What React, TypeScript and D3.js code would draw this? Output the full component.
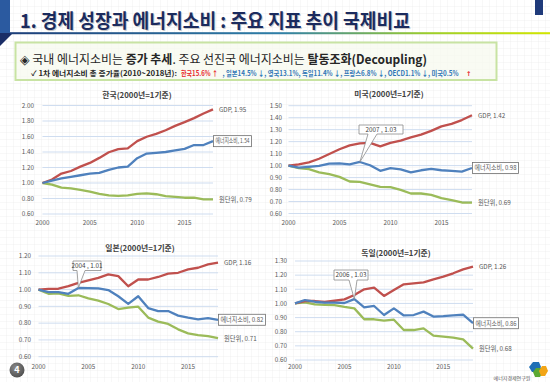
import React from "react";
import * as d3 from "d3";

const years = [2000, 2001, 2002, 2003, 2004, 2005, 2006, 2007, 2008, 2009, 2010, 2011, 2012, 2013, 2014, 2015, 2016, 2017, 2018];
const xTickYears = [2000, 2005, 2010, 2015];

const koreaGDP = [1.0, 1.045, 1.122, 1.155, 1.211, 1.259, 1.324, 1.397, 1.436, 1.446, 1.54, 1.597, 1.634, 1.681, 1.737, 1.785, 1.837, 1.896, 1.95];
const koreaEnergy = [1.0, 1.03, 1.06, 1.08, 1.1, 1.12, 1.13, 1.17, 1.2, 1.21, 1.32, 1.38, 1.39, 1.4, 1.42, 1.44, 1.49, 1.49, 1.54];
const koreaIntensity = [1.0, 0.98, 0.94, 0.93, 0.91, 0.89, 0.86, 0.84, 0.835, 0.84, 0.86, 0.865, 0.855, 0.83, 0.82, 0.81, 0.81, 0.79, 0.79];

const usGDP = [1.0, 1.01, 1.027, 1.057, 1.097, 1.136, 1.169, 1.185, 1.19, 1.16, 1.19, 1.209, 1.236, 1.258, 1.29, 1.327, 1.348, 1.38, 1.42];
const usEnergy = [1.0, 0.983, 0.99, 0.997, 1.017, 1.019, 1.011, 1.03, 1.003, 0.956, 0.978, 0.969, 0.944, 0.961, 0.972, 0.961, 0.956, 0.95, 0.98];
const usIntensity = [1.0, 0.978, 0.97, 0.944, 0.928, 0.906, 0.867, 0.864, 0.844, 0.822, 0.82, 0.797, 0.767, 0.767, 0.756, 0.728, 0.711, 0.692, 0.69];

const japanGDP = [1.0, 1.004, 1.005, 1.02, 1.04, 1.055, 1.07, 1.09, 1.08, 1.02, 1.06, 1.06, 1.075, 1.095, 1.1, 1.12, 1.13, 1.15, 1.16];
const japanEnergy = [1.0, 0.985, 0.985, 0.975, 1.01, 1.008, 1.007, 0.997, 0.96, 0.915, 0.96, 0.89, 0.872, 0.872, 0.845, 0.833, 0.823, 0.83, 0.82];
const japanIntensity = [1.0, 0.975, 0.977, 0.962, 0.966, 0.948, 0.934, 0.914, 0.884, 0.892, 0.898, 0.833, 0.809, 0.795, 0.763, 0.739, 0.729, 0.723, 0.71];

const germanyGDP = [1.0, 1.017, 1.017, 1.01, 1.019, 1.029, 1.06, 1.1, 1.112, 1.053, 1.095, 1.135, 1.142, 1.149, 1.17, 1.189, 1.213, 1.241, 1.26];
const germanyEnergy = [1.0, 1.024, 1.012, 1.005, 1.005, 1.003, 1.03, 0.972, 0.982, 0.918, 0.965, 0.915, 0.918, 0.942, 0.907, 0.91, 0.915, 0.92, 0.86];
const germanyIntensity = [1.0, 1.008, 0.993, 0.99, 0.988, 0.975, 0.965, 0.888, 0.888, 0.878, 0.885, 0.812, 0.812, 0.824, 0.772, 0.765, 0.758, 0.746, 0.68];

const koreaTicks = [0.6, 0.8, 1.0, 1.2, 1.4, 1.6, 1.8, 2.0];
const usTicks = [0.6, 0.7, 0.8, 0.9, 1.0, 1.1, 1.2, 1.3, 1.4, 1.5];
const japanTicks = [0.6, 0.7, 0.8, 0.9, 1.0, 1.1, 1.2];
const germanyTicks = [0.6, 0.7, 0.8, 0.9, 1.0, 1.1, 1.2, 1.3];

const seriesNames = ["GDP", "에너지소비", "원단위"];
const chartTitles = ["한국(2000년=1기준)", "미국(2000년=1기준)", "일본(2000년=1기준)", "독일(2000년=1기준)"];

const FONT = "'Noto Sans CJK KR', 'Noto Sans', sans-serif";
const RED = "#c0504d";
const BLUE = "#4f81bd";
const GREEN = "#9bbb59";
const GRID = "#c9d9ee";
const AXIS_TXT = "#595959";

type Panel = {
  title: string;
  titleX: number;
  titleY: number;
  x0: number;
  x1: number;
  yT: number;
  yB: number;
  ticks: number[];
  yLabelX: number;
  xLabelY: number;
  gdp: number[];
  energy: number[];
  intensity: number[];
  energyBoxW: number;
  callout?: { year: number; bx: number; by: number; bw: number; bh: number; wx1: number; wx2: number };
};

const panels: Panel[] = [
  {
    title: chartTitles[0], titleX: 137, titleY: 98, x0: 42.5, x1: 213, yT: 105.5, yB: 214,
    ticks: koreaTicks, yLabelX: 34, xLabelY: 225, gdp: koreaGDP, energy: koreaEnergy, intensity: koreaIntensity,
    energyBoxW: 38,
  },
  {
    title: chartTitles[1], titleX: 389, titleY: 97, x0: 288.5, x1: 472, yT: 105.7, yB: 213.5,
    ticks: usTicks, yLabelX: 282, xLabelY: 225, gdp: usGDP, energy: usEnergy, intensity: usIntensity,
    energyBoxW: 46,
    callout: { year: 2007, bx: 359, by: 125, bw: 44, bh: 9, wx1: 368, wx2: 377 },
  },
  {
    title: chartTitles[2], titleX: 140, titleY: 251, x0: 38.5, x1: 218, yT: 256, yB: 356.7,
    ticks: japanTicks, yLabelX: 31, xLabelY: 369, gdp: japanGDP, energy: japanEnergy, intensity: japanIntensity,
    energyBoxW: 47,
    callout: { year: 2004, bx: 73, by: 261, bw: 28, bh: 9.5, wx1: 77, wx2: 85 },
  },
  {
    title: chartTitles[3], titleX: 396, titleY: 256, x0: 295, x1: 473, yT: 261, yB: 360,
    ticks: germanyTicks, yLabelX: 287, xLabelY: 369, gdp: germanyGDP, energy: germanyEnergy, intensity: germanyIntensity,
    energyBoxW: 45,
    callout: { year: 2006, bx: 334, by: 270, bw: 34, bh: 10, wx1: 349, wx2: 357 },
  },
];

const fmt = d3.format(".2f");

function Chart({ p }: { p: Panel }) {
  const x = d3.scaleLinear().domain([years[0], years[years.length - 1]]).range([p.x0, p.x1]);
  const y = d3
    .scaleLinear()
    .domain([p.ticks[0], p.ticks[p.ticks.length - 1]])
    .range([p.yB, p.yT]);
  const line = d3
    .line<number>()
    .x((_, i) => x(years[i]))
    .y((d) => y(d))
    .curve(d3.curveLinear);
  const last = years.length - 1;
  const xe = x(years[last]);
  const gY = y(p.gdp[last]);
  const eY = y(p.energy[last]);
  const iY = y(p.intensity[last]);
  let calloutEl: React.ReactNode = null;
  if (p.callout) {
    const c = p.callout;
    const idx = years.indexOf(c.year);
    const px = x(c.year);
    const py = y(p.energy[idx]);
    const d = `M${c.bx},${c.by} H${c.bx + c.bw} V${c.by + c.bh} H${c.wx2} L${px},${py} L${c.wx1},${c.by + c.bh} H${c.bx} Z`;
    calloutEl = (
      <g>
        <path d={d} fill="#ffffff" stroke="#8c8c8c" strokeWidth={0.8} />
        <text x={c.bx + c.bw / 2} y={c.by + c.bh / 2 + 2.3} fontSize={6.3} fill="#404040" textAnchor="middle" fontFamily={FONT}>
          {`${c.year} , ${fmt(p.energy[idx])}`}
        </text>
      </g>
    );
  }
  return (
    <g>
      <text x={p.titleX} y={p.titleY} fontSize={7.8} fontWeight="bold" fill="#404040" textAnchor="middle" fontFamily={FONT}>
        {p.title}
      </text>
      {p.ticks.map((t) => (
        <g key={t}>
          <line x1={p.x0} x2={p.x1} y1={y(t)} y2={y(t)} stroke={GRID} strokeWidth={0.9} />
          <text x={p.yLabelX} y={y(t) + 2.3} fontSize={6.3} fill={AXIS_TXT} textAnchor="end" fontFamily={FONT}>
            {fmt(t)}
          </text>
        </g>
      ))}
      {xTickYears.map((yr) => (
        <text key={yr} x={x(yr)} y={p.xLabelY} fontSize={6.3} fill={AXIS_TXT} textAnchor="middle" fontFamily={FONT}>
          {yr}
        </text>
      ))}
      <path d={line(p.intensity) || ""} fill="none" stroke={GREEN} strokeWidth={2.3} strokeLinejoin="round" />
      <path d={line(p.gdp) || ""} fill="none" stroke={RED} strokeWidth={2.3} strokeLinejoin="round" />
      <path d={line(p.energy) || ""} fill="none" stroke={BLUE} strokeWidth={2.3} strokeLinejoin="round" />
      {calloutEl}
      <text x={xe + 6} y={gY + 2.5} fontSize={6.3} fill={AXIS_TXT} fontFamily={FONT}>
        {`${seriesNames[0]}, ${fmt(p.gdp[last])}`}
      </text>
      <rect x={xe + 0.5} y={eY - 5.5} width={p.energyBoxW} height={11} fill="#ffffff" stroke="#6e6e6e" strokeWidth={0.8} />
      <text
        x={xe + 2.5}
        y={eY + 2.3}
        fontSize={6.3}
        fill={AXIS_TXT}
        fontFamily={FONT}
        textLength={p.energyBoxW - 4}
        lengthAdjust="spacingAndGlyphs"
      >
        {`${seriesNames[1]}, ${fmt(p.energy[last])}`}
      </text>
      <text x={xe + 6} y={iY + 2.5} fontSize={6.3} fill={AXIS_TXT} fontFamily={FONT}>
        {`${seriesNames[2]}, ${fmt(p.intensity[last])}`}
      </text>
    </g>
  );
}

function T(props: any) {
  const { len, children, ...rest } = props;
  return (
    <text fontFamily={FONT} textLength={len} lengthAdjust="spacingAndGlyphs" {...rest}>
      {children}
    </text>
  );
}

export default function App() {
  return (
    <svg
      width={550}
      height={382}
      viewBox="0 0 550 382"
      style={{ position: "absolute", left: 0, top: 0, background: "#ffffff" }}
    >
      <defs>
        <pattern id="bggrid" width={7} height={7} patternUnits="userSpaceOnUse">
          <path d="M7,0 V7 M0,7 H7" fill="none" stroke="#ececec" strokeWidth={0.7} />
        </pattern>
        <linearGradient id="tline" x1="0" x2="1" y1="0" y2="0">
          <stop offset="0" stopColor="#1d3f7a" />
          <stop offset="0.5" stopColor="#2f7fa8" />
          <stop offset="0.78" stopColor="#9fcf2a" />
          <stop offset="1" stopColor="#d2e600" />
        </linearGradient>
        <radialGradient id="pg" cx="0.4" cy="0.35" r="0.7">
          <stop offset="0" stopColor="#8a8a8a" />
          <stop offset="1" stopColor="#4d4d4d" />
        </radialGradient>
      </defs>
      <rect x={0} y={0} width={550} height={382} fill="url(#bggrid)" />

      {/* header decorations */}
      <rect x={0} y={0} width={10} height={33} fill="#2b5aa0" />
      <path d="M0,33 H13 L0,46 Z" fill="#1a2d66" />
      <rect x={535} y={0} width={8} height={15} fill="#1f3a7a" />
      <rect x={10} y={32.2} width={540} height={2} fill="url(#tline)" />

      <T x={21} y={28.5} fill="#c9c9c9" fontSize={19} fontWeight="bold" len={390}>
        1. 경제 성장과 에너지소비 : 주요 지표 추이 국제비교
      </T>
      <T x={20} y={27.5} fill="#1b2b5e" fontSize={19} fontWeight="bold" len={390}>
        1. 경제 성장과 에너지소비 : 주요 지표 추이 국제비교
      </T>

      {/* summary box */}
      <rect x={15.5} y={42.5} width={481} height={37.5} fill="rgba(246,250,238,0.7)" stroke="#c8e3a3" strokeWidth={2} />
      <T x={20} y={64} fontSize={12.5} fill="#262626" len={407}>
        <tspan>◈ 국내 에너지소비는 </tspan>
        <tspan fontWeight="bold">증가 추세</tspan>
        <tspan>. 주요 선진국 에너지소비는 </tspan>
        <tspan fontWeight="bold">탈동조화(Decoupling)</tspan>
      </T>

      <T x={31} y={76} fontSize={7.2} fill="#262626" fontWeight="bold" len={146}>✓ 1차 에너지소비 총 증가율(2010~2018년):</T>
      <T x={181} y={76} fontSize={7.2} fill="#e8262b" fontWeight="bold" len={37}>한국15.6% ↑</T>
      <T x={222.5} y={76} fontSize={7.2} fill="#2e75b6" fontWeight="bold" len={236}>, 일본14.5% ↓, 영국13.1%, 독일11.4% ↓, 프랑스6.8% ↓, OECD1.1% ↓, 미국0.5%</T>
      <text x={466} y={76} fontSize={6.5} fill="#e8262b" fontWeight="bold" fontFamily="'DejaVu Sans', sans-serif">↑</text>

      {panels.map((p, i) => (
        <Chart key={i} p={p} />
      ))}

      {/* page number */}
      <circle cx={17} cy={370} r={7.5} fill="url(#pg)" />
      <text x={17} y={373.3} fontSize={9} fontWeight="bold" fill="#ffffff" textAnchor="middle" fontFamily={FONT}>
        4
      </text>

      {/* logo */}
      <path d="M529,367 L533,362 L539,362 L541,367 L538,372 L532,372 Z" fill="#1f6fb5" />
      <path d="M533,372 L536,368 L541,368 L543,372 L540,377 L535,377 Z" fill="#5aa832" />
      <path d="M539,371 L542,366 L546,366 L548,371 L545,376 L541,376 Z" fill="#f2a516" />
      <text x={512} y={380} fontSize={5} fill="#555" textAnchor="middle" fontFamily={FONT}>
        에너지경제연구원
      </text>
    </svg>
  );
}
